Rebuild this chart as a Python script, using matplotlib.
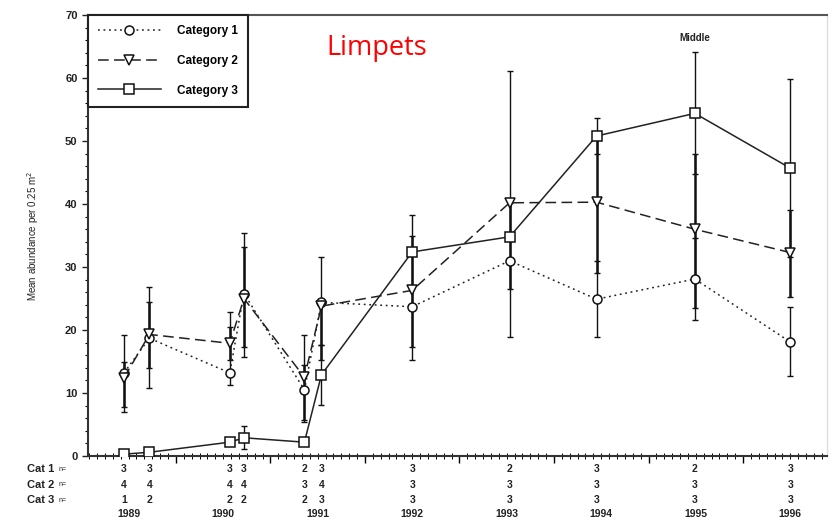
import numpy as np
import matplotlib.pyplot as plt
from matplotlib.ticker import MultipleLocator

# sampling dates (decimal years) and sample sizes
sample_x = [1989.45, 1989.72, 1990.57, 1990.72, 1991.36, 1991.54,
            1992.50, 1993.53, 1994.45, 1995.49, 1996.50]
years = [1989, 1990, 1991, 1992, 1993, 1994, 1995, 1996]

cat1_mean = [13.2, 18.7, 13.2, 25.8, 10.5, 24.4, 23.7, 31.0, 24.9, 28.1, 18.1]
cat1_low = [7.0, 10.8, 11.3, 15.7, 5.4, 17.6, 15.2, 31.0, 18.9, 21.6, 12.7]
cat1_high = [19.2, 26.8, 22.9, 35.4, 19.2, 31.6, 38.3, 31.0, 31.0, 34.6, 23.6]

cat2_mean = [12.4, 19.3, 17.9, 25.0, 12.5, 23.8, 26.3, 40.2, 40.3, 36.0, 32.3]
cat2_low = [7.8, 14.0, 15.2, 17.3, 5.7, 15.2, 17.3, 26.5, 29.0, 23.5, 25.2]
cat2_high = [14.9, 24.4, 20.5, 33.2, 14.4, 23.8, 35.0, 40.2, 50.6, 48.0, 39.0]

cat3_mean = [0.3, 0.6, 2.2, 2.9, 2.2, 12.9, 32.4, 34.8, 50.8, 54.4, 45.7]
cat3_low = [0.3, 0.6, 2.2, 1.1, 2.2, 8.1, 32.4, 18.9, 48.0, 44.7, 31.6]
cat3_high = [0.3, 0.6, 2.2, 4.8, 2.2, 17.6, 32.4, 61.1, 53.6, 64.1, 59.8]

n_cat1 = [3, 3, 3, 3, 2, 3, 3, 2, 3, 2, 3]
n_cat2 = [4, 4, 4, 4, 3, 4, 3, 3, 3, 3, 3]
n_cat3 = [1, 2, 2, 2, 2, 3, 3, 3, 3, 3, 3]

plt.rcParams['font.family'] = ['Liberation Sans', 'DejaVu Sans']

fig = plt.figure(figsize=(8.33, 5.2), dpi=100)
ax = fig.add_axes([0.1056, 0.123, 0.8874, 0.848])

series = [
    ('Category 1', cat1_mean, cat1_low, cat1_high, 'o', (0, (1.2, 2.4)), 1.0),
    ('Category 2', cat2_mean, cat2_low, cat2_high, 'v', (0, (7, 3.5)), 1.8),
    ('Category 3', cat3_mean, cat3_low, cat3_high, 's', '-', 1.0),
]

for label, mean, low, high, marker, ls, elw in series:
    mean = np.array(mean)
    yerr = [mean - np.array(low), np.array(high) - mean]
    ax.errorbar(sample_x, mean, yerr=yerr, fmt='none', ecolor='#111111',
                elinewidth=elw, capsize=2, capthick=1.0, zorder=2)
    ax.plot(sample_x, mean, linestyle=ls, color='#222222', lw=1.1,
            marker=marker, markersize=6.5, markerfacecolor='white',
            markeredgecolor='#111111', markeredgewidth=1.1,
            label=label, zorder=3)

ax.set_xlim(1989.07, 1996.89)
ax.set_ylim(0, 70)

# y axis
ax.yaxis.set_major_locator(MultipleLocator(10))
ax.yaxis.set_minor_locator(MultipleLocator(2))
ax.tick_params(axis='y', which='major', direction='out', length=4,
               width=1, labelsize=8, colors='#222222')
ax.tick_params(axis='y', which='minor', direction='out', length=2, width=0.8)
for t in ax.get_yticklabels():
    t.set_fontweight('bold')
ax.set_ylabel('Mean abundance per 0.25 m$^2$', fontsize=7, labelpad=17,
              color='#222222')

# x axis: years with monthly ticks, labels in table below
ax.set_xticks(years[1:])
ax.xaxis.set_minor_locator(MultipleLocator(1 / 12))
ax.tick_params(axis='x', which='major', direction='out', length=5, width=1,
               labelbottom=False)
ax.tick_params(axis='x', which='minor', direction='inout', length=4,
               width=0.7)

for side in ['left', 'bottom']:
    ax.spines[side].set_linewidth(1.5)
    ax.spines[side].set_color('#333333')
ax.spines['top'].set_linewidth(1.5)
ax.spines['top'].set_color('#555555')
ax.spines['right'].set_linewidth(1.0)
ax.spines['right'].set_color('#dddddd')

leg = ax.legend(loc='upper left', borderaxespad=0, fancybox=False,
                framealpha=1, edgecolor='#222222', handlelength=5.3,
                numpoints=1, labelspacing=1.5, borderpad=0.85,
                handletextpad=1.4, prop={'size': 8.5, 'weight': 'bold'})
leg.get_frame().set_linewidth(1.5)

ax.text(0.39, 0.925, 'Limpets', transform=ax.transAxes, color='red',
        fontsize=19.5, family=['Open Sans', 'DejaVu Sans'],
        ha='center', va='center')
ax.text(1995.49, 65.5, 'Middle', fontsize=7, fontweight='bold',
        ha='center', va='bottom', color='#222222')

# sample size table under the axis
trans = ax.get_xaxis_transform()
rows = [('Cat 1', n_cat1, -0.030), ('Cat 2', n_cat2, -0.065),
        ('Cat 3', n_cat3, -0.100)]
for name, counts, ypos in rows:
    fig.text(0.032, 0.123 + ypos * 0.848, name, fontsize=8,
             fontweight='bold', va='center', color='#222222')
    fig.text(0.070, 0.123 + ypos * 0.848, 'n=', fontsize=5,
             va='center', color='#222222')
    for xv, c in zip(sample_x, counts):
        ax.text(xv, ypos, str(c), transform=trans, fontsize=7.5,
                fontweight='bold', ha='center', va='center',
                color='#222222', clip_on=False)
for yr in years:
    ax.text(yr + 0.5, -0.131, str(yr), transform=trans, fontsize=7.5,
            fontweight='bold', ha='center', va='center', color='#222222',
            clip_on=False)

fig.savefig('out.png', dpi=100)
